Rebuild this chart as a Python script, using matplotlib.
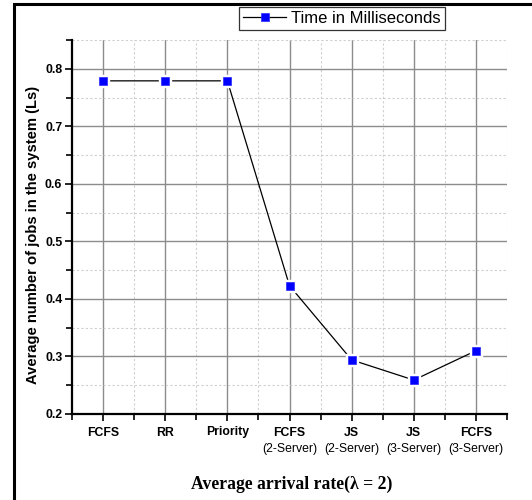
import matplotlib
matplotlib.use("Agg")
import matplotlib.pyplot as plt
from matplotlib.lines import Line2D
from matplotlib.patches import Rectangle
from matplotlib.ticker import MultipleLocator, FixedLocator, NullFormatter

# Scheduling policies and the mean number of jobs in the system (Ls)
policies = ["FCFS", "RR", "Priority", "FCFS", "JS", "JS", "FCFS"]
servers = ["", "", "", "(2-Server)", "(2-Server)", "(3-Server)", "(3-Server)"]
avg_jobs = [0.779, 0.779, 0.779, 0.423, 0.294, 0.259, 0.310]
series_name = "Time in Milliseconds"

plt.rcParams["font.family"] = ["Liberation Sans", "DejaVu Sans"]

W, H = 532, 500
fig = plt.figure(figsize=(W / 100, H / 100), dpi=100)
ax = fig.add_axes([72 / W, 1 - 414 / H, (507 - 72) / W, (414 - 40) / H])

x = list(range(1, len(policies) + 1))

# Grid: solid major lines, dotted minor lines
ax.set_xlim(0.5, 7.5)
ax.set_ylim(0.2, 0.85)
ax.xaxis.set_major_locator(FixedLocator(x))
ax.xaxis.set_minor_locator(FixedLocator([i + 0.5 for i in range(0, 8)]))
ax.yaxis.set_major_locator(MultipleLocator(0.1))
ax.yaxis.set_minor_locator(MultipleLocator(0.05))
ax.grid(which="major", color="#8c8c8c", linewidth=1.0, linestyle="-")
ax.grid(which="minor", color="#cfcfcf", linewidth=0.8, linestyle=(0, (2, 2)))
ax.set_axisbelow(True)

# Series: thin black line, blue squares separated from the line by a white halo
ax.plot(x, avg_jobs, color="black", linewidth=0.9, zorder=3)
ax.plot(x, avg_jobs, linestyle="none", marker="s", markersize=8.8,
        markerfacecolor="white", markeredgecolor="white", zorder=4)
ax.plot(x, avg_jobs, linestyle="none", marker="s", markersize=5.8,
        markerfacecolor="#0000ff", markeredgecolor="#2a2aff",
        markeredgewidth=0.5, zorder=5)

# Spines
for side in ("top", "right"):
    ax.spines[side].set_visible(False)
for side in ("left", "bottom"):
    ax.spines[side].set_linewidth(1.6)
    ax.spines[side].set_color("black")

ax.tick_params(which="major", direction="out", length=5, width=1.2,
               labelsize=8.8, pad=2)
ax.tick_params(which="minor", direction="out", length=4, width=1.2)
ax.tick_params(axis="x", which="major", pad=4)

ax.set_yticks([0.2, 0.3, 0.4, 0.5, 0.6, 0.7, 0.8])
ax.set_yticklabels(["0.2", "0.3", "0.4", "0.5", "0.6", "0.7", "0.8"],
                   fontweight="bold")
ax.set_xticklabels(policies, fontweight="bold")
ax.xaxis.set_minor_formatter(NullFormatter())

# Second line of the category labels (server count)
for xi, s in zip(x, servers):
    if s:
        ax.text(xi, -35 / 374, s, transform=ax.get_xaxis_transform(),
                ha="center", va="center", fontsize=8.8)

fig.text(33 / W, 1 - 235 / H, "Average number of jobs in the system (Ls)",
         rotation=90, ha="center", va="center", fontsize=10.6,
         fontweight="bold")

fig.text(292 / W, 1 - 484 / H, "Average arrival rate(\u03bb = 2)",
         ha="center", va="center", fontsize=12.7, fontweight="bold",
         family=["Liberation Serif", "DejaVu Serif"])

# Legend
handle = Line2D([], [], color="black", linewidth=0.9, marker="s",
                markersize=5.8, markerfacecolor="#0000ff",
                markeredgecolor="#2a2aff", markeredgewidth=0.5)
leg = fig.legend([handle], [series_name], loc="center",
                 bbox_to_anchor=(342 / W, 1 - 18.5 / H),
                 fontsize=12, frameon=True, fancybox=False, edgecolor="black",
                 handlelength=2.6, handletextpad=0.3, borderpad=0.25,
                 borderaxespad=0)
leg.get_frame().set_linewidth(0.9)

# Outer frame (left and top edges visible)
fig.patches.append(Rectangle((14 / W, -0.2), 1.2, 1.2 - 4 / H,
                             transform=fig.transFigure, fill=False,
                             edgecolor="black", linewidth=2.2, zorder=0))

fig.savefig("out.png", dpi=100)
